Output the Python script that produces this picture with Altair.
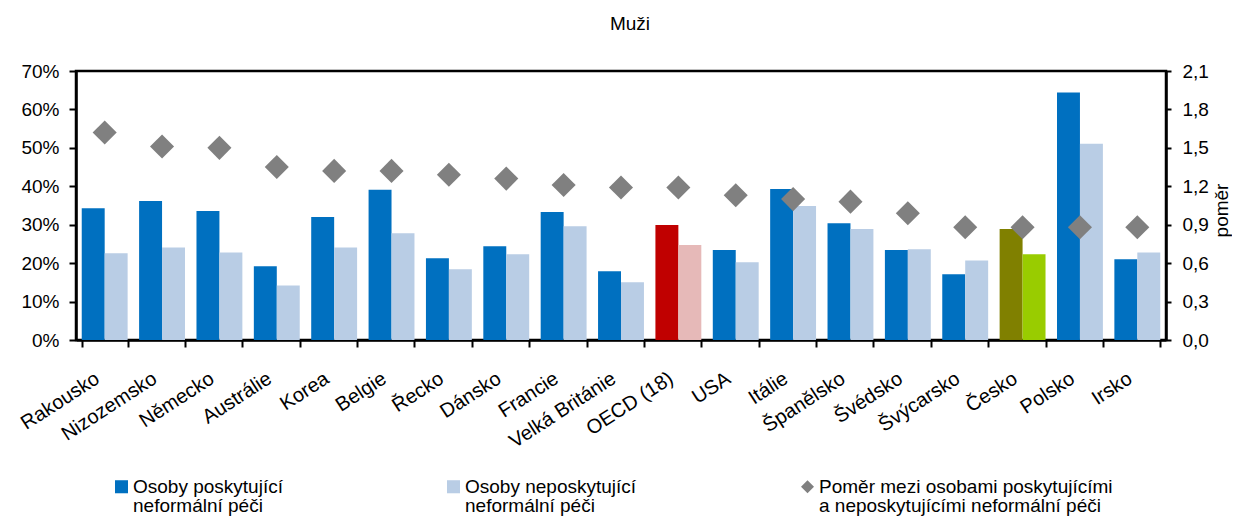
import altair as alt
import pandas as pd

countries = ["Rakousko", "Nizozemsko", "Německo", "Austrálie", "Korea", "Belgie", "Řecko",
             "Dánsko", "Francie", "Velká Británie", "OECD (18)", "USA", "Itálie", "Španělsko",
             "Švédsko", "Švýcarsko", "Česko", "Polsko", "Irsko"]
providers = [34.3, 36.2, 33.6, 19.2, 32.0, 39.1, 21.3, 24.4, 33.3, 17.9, 29.9, 23.4, 39.3, 30.4,
             23.4, 17.1, 28.9, 64.4, 21.0]
non_providers = [22.6, 24.1, 22.8, 14.2, 24.1, 27.8, 18.4, 22.3, 29.6, 15.0, 24.7, 20.2, 34.9, 28.9,
                 23.6, 20.7, 22.3, 51.1, 22.8]
ratio = [1.62, 1.51, 1.50, 1.35, 1.32, 1.32, 1.29, 1.26, 1.21, 1.19, 1.19, 1.13, 1.10, 1.08,
         0.99, 0.88, 0.88, 0.88, 0.88]

series_keys = ["A", "B", "R", "OECD_p", "OECD_n", "CZ_p", "CZ_n"]
series_colors = ["#0070C0", "#B9CDE5", "#808080", "#C00000", "#E6B9B8", "#808000", "#99CC00"]
series_shapes = ["square", "square", "diamond", "square", "square", "square", "square"]

FONT = "Liberation Sans"

rows = []
for c, p, n in zip(countries, providers, non_providers):
    if c == "OECD (18)":
        kp, kn = "OECD_p", "OECD_n"
    elif c == "Česko":
        kp, kn = "CZ_p", "CZ_n"
    else:
        kp, kn = "A", "B"
    rows.append({"country": c, "series": "1", "key": kp, "value": p})
    rows.append({"country": c, "series": "2", "key": kn, "value": n})
bars_df = pd.DataFrame(rows)
ratio_df = pd.DataFrame({"country": countries, "ratio": ratio, "key": ["R"] * len(countries)})

label_expr = ("datum.label == 'A' ? ['Osoby poskytující', 'neformální péči'] : "
              "datum.label == 'B' ? ['Osoby neposkytující', 'neformální péči'] : "
              "['Poměr mezi osobami poskytujícími', 'a neposkytujícími neformální péči']")

legend = alt.Legend(
    title=None, orient="none", legendX=36, legendY=406, direction="horizontal", columns=3,
    values=["A", "B", "R"], labelExpr=label_expr, labelFont=FONT, labelFontSize=19,
    labelColor="#000000", labelBaseline="middle", labelOffset=2, symbolSize=170,
    columnPadding=161, labelLimit=400, symbolStrokeWidth=0,
)

color_scale = alt.Scale(domain=series_keys, range=series_colors)
shape_scale = alt.Scale(domain=series_keys, range=series_shapes)

x_scale = alt.Scale(paddingInner=0.2, paddingOuter=0.1)
x_axis = alt.Axis(labelAngle=-33, labelAlign="right", labelBaseline="top",
                  labelFont=FONT, labelFontSize=20, labelColor="#000000",
                  tickBand="extent", tickSize=7, tickWidth=2, tickColor="#000000",
                  domainColor="#000000", domainWidth=2.5, labelPadding=21,
                  labelOffset=-13, title=None)

bars = alt.Chart(bars_df).mark_bar().encode(
    x=alt.X("country:N", sort=countries, scale=x_scale, axis=x_axis),
    xOffset=alt.XOffset("series:N", scale=alt.Scale(paddingInner=0, paddingOuter=0)),
    y=alt.Y("value:Q", scale=alt.Scale(domain=[0, 70], nice=False),
            axis=alt.Axis(orient="left", values=[0, 10, 20, 30, 40, 50, 60, 70],
                          labelExpr="datum.value + '%'", title=None, grid=False,
                          labelFont=FONT, labelFontSize=19, labelColor="#000000",
                          tickSize=7, tickWidth=2, tickColor="#000000",
                          domainColor="#000000", domainWidth=2.5, labelPadding=10)),
    color=alt.Color("key:N", scale=color_scale, legend=legend),
)

points = alt.Chart(ratio_df).mark_point(filled=True, opacity=1, size=580).encode(
    x=alt.X("country:N", sort=countries, scale=x_scale, axis=x_axis),
    y=alt.Y("ratio:Q", scale=alt.Scale(domain=[0, 2.1], nice=False),
            axis=alt.Axis(orient="right", values=[0, 0.3, 0.6, 0.9, 1.2, 1.5, 1.8, 2.1],
                          labelExpr="replace(format(datum.value, '.1f'), '.', ',')",
                          title="poměr", titleAngle=270, titleBaseline="top",
                          titleFont=FONT, titleFontSize=19, titleY=139,
                          titleFontWeight="normal", titleColor="#000000", titlePadding=4,
                          grid=False, labelFont=FONT, labelFontSize=19, labelColor="#000000",
                          tickSize=5, tickWidth=2, tickColor="#000000",
                          domainColor="#000000", domainWidth=2.5, labelPadding=11)),
    color=alt.Color("key:N", scale=color_scale, legend=legend),
    shape=alt.Shape("key:N", scale=shape_scale, legend=legend),
)

chart = alt.layer(bars, points).resolve_scale(y="independent").properties(
    width=1090, height=269,
    title=alt.TitleParams("Muži", font=FONT, fontSize=19, fontWeight="normal",
                          color="#000000", offset=28, dx=9),
    autosize=alt.AutoSizeParams(type="none"),
    padding={"left": 68, "top": 63, "right": 66, "bottom": 176},
).configure(
    style={"guide-label": {"lineHeight": 19}}
).configure_view(stroke="#000000", strokeWidth=2.5)

chart.save("out.html", embed_options={"renderer": "svg", "actions": False})
